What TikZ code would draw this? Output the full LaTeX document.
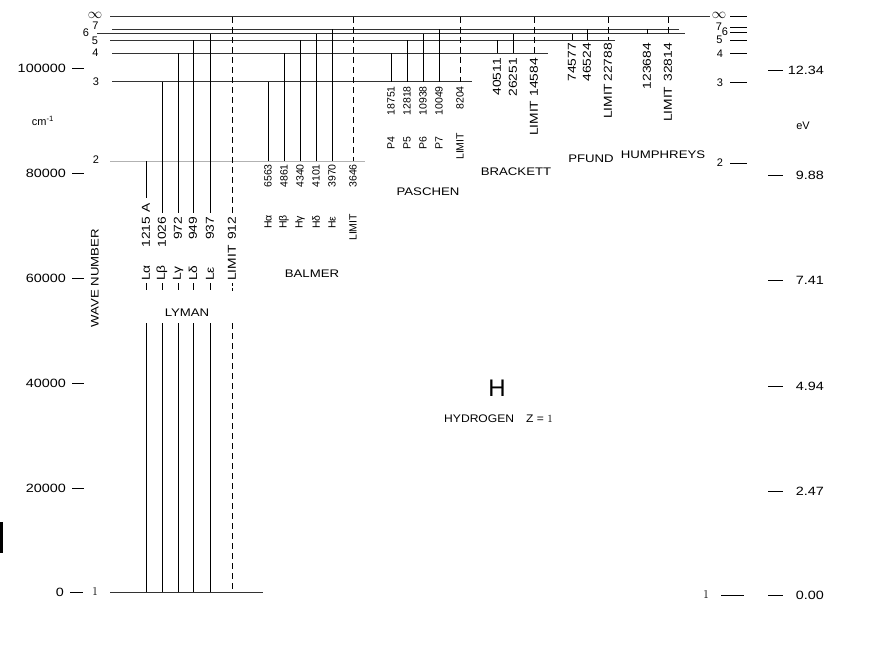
\documentclass[tikz,border=0pt]{standalone}
\usepackage{fontspec}
\setmainfont{Liberation Sans}
\newfontfamily\wfont[FakeStretch=1.2]{Liberation Sans}
\newfontfamily\mfont[FakeStretch=1.1]{Liberation Sans}
\begin{document}
\begin{tikzpicture}[x=1pt,y=-1pt,
  lev/.style={line width=0.8pt,black!80},
  levtwo/.style={line width=0.8pt,black!30},
  tr/.style={line width=0.9pt},
  lim/.style={line width=0.9pt,dash pattern=on 6pt off 4pt},
  tick/.style={line width=0.8pt},
  axnum/.style={font=\wfont\fontsize{12}{14}\selectfont,inner sep=0pt},
  lvnum/.style={font=\fontsize{11}{13}\selectfont,inner sep=0pt},
  biglab/.style={font=\wfont\fontsize{11.5}{13}\selectfont,inner sep=0pt,rotate=90},
  smalllab/.style={font=\fontsize{10.5}{12}\selectfont,inner sep=0pt,rotate=90},
  sername/.style={font=\wfont\fontsize{11}{13}\selectfont,inner sep=0pt},
]
\useasboundingbox (0,0) rectangle (871,645);
\fill[white] (0,0) rectangle (871,645);
\fill[black] (0,522) rectangle (3,553);

% ---------- energy levels ----------
\draw[lev] (110,592) -- (263,592);
\draw[levtwo] (110,161) -- (365,161);
\draw[lev] (112,81.7) -- (472,81.7);
\draw[lev] (112,53.3) -- (548,53.3);
\draw[lev] (110,40) -- (615,40);
\draw[lev] (97,33.7) -- (685,33.7);
\draw[lev] (112,29) -- (679,29);
\draw[lev] (110,16.8) -- (710,16.8);

% ---------- left level labels ----------
\node[lvnum] (lI) at (95,15) {\fontsize{14}{14}\selectfont$\infty$};
\node[lvnum] (l7) at (95.5,25.5) {7};
\node[lvnum] (l6) at (86,33) {6};
\node[lvnum] (l5) at (95,41) {5};
\node[lvnum] (l4) at (95.5,53) {4};
\node[lvnum] (l3) at (96,82) {3};
\node[lvnum] (l2) at (96,160) {2};
\node[lvnum] (l1) at (95,592) {\fontsize{12}{12}\selectfont$1$};

% ---------- right level labels ----------
\node[lvnum] (rI) at (719,15) {\fontsize{14}{14}\selectfont$\infty$};
\node[lvnum] (r7) at (719,26.5) {7};
\node[lvnum] (r6) at (725,32) {6};
\node[lvnum] (r5) at (719.5,40) {5};
\node[lvnum] (r4) at (720,54) {4};
\node[lvnum] (r3) at (720,83) {3};
\node[lvnum] (r2) at (720,163) {2};
\node[lvnum] (r1) at (706,595) {\fontsize{12}{12}\selectfont$1$};
\foreach \y in {16.3,27.7,32.3,40.3,53.3,82.3,163.3}{
  \draw[tick] (730,\y) -- (747,\y);
}
\draw[tick] (721,595) -- (744,595);

% ---------- left wave-number axis ----------
\foreach \y/\t/\k in {68/100000/a,173/80000/b,278/60000/c,383/40000/d,488/20000/e}{
  \node[axnum,anchor=east] (ax\k) at (66,\y) {\t};
  \draw[tick] (72,\y) -- (84,\y);
}
\node[axnum,anchor=east] (axf) at (64,592) {0};
\draw[tick] (70,592) -- (83,592);
\node[lvnum] (cm) at (43,121) {cm\textsuperscript{-1}};
\node[sername,rotate=90] (wn) at (95,278) {WAVE NUMBER};

% ---------- right eV axis ----------
\foreach \y/\t/\k in {70.5/12.34/a,175.5/9.88/b,280/7.41/c,386/4.94/d,491/2.47/e,595/0.00/f}{
  \draw[tick] (768,\y) -- (783,\y);
  \node[axnum,anchor=east] (ev\k) at (824,\y) {\t};
}
\node[lvnum] (eV) at (803,126) {eV};

% ---------- Lyman series ----------
\draw[tr] (146,161) -- (146,198);
\node[biglab,anchor=east] (Lyan) at (146,216.5) {1215\rlap{\hspace{4pt}A}};
\node[biglab,anchor=west] (Lyas) at (146,281) {Lα};
\draw[tr] (146,283) -- (146,290);
\draw[tr] (146,323) -- (146,592);
\foreach \x/\yt/\s/\n/\k in {162/81.7/Lβ/1026/b,178/53.3/Lγ/972/c,193/40/Lδ/949/d,210/33.7/Lε/937/e}{
  \draw[tr] (\x,\yt) -- (\x,213);
  \node[biglab,anchor=east] (Ly\k n) at (\x,216.5) {\n};
  \node[biglab,anchor=west] (Ly\k s) at (\x,281) {\s};
  \draw[tr] (\x,283) -- (\x,290);
  \draw[tr] (\x,323) -- (\x,592);
}
\draw[lim] (232,16.8) -- (232,213);
\node[biglab,anchor=east] (Lyln) at (232,216.5) {912};
\node[biglab,anchor=west] (Lyls) at (232,281) {LIMIT};
\draw[tr,dash pattern=on 3pt off 2pt] (232,283) -- (232,292);
\draw[lim] (232,323) -- (232,592);
\node[sername] (lyman) at (187,313) {LYMAN};

% ---------- Balmer series ----------
\foreach \x/\yt/\s/\n/\k in {268/81.7/Hα/6563/a,284/53.3/Hβ/4861/b,300/40/Hγ/4340/c,316/33.7/Hδ/4101/d,332/29/Hε/3970/e}{
  \draw[tr] (\x,\yt) -- (\x,161);
  \node[smalllab,anchor=east] (Ba\k n) at (\x,164) {\n};
  \node[smalllab,anchor=west] (Ba\k s) at (\x,229) {\s};
}
\draw[lim] (353,16.8) -- (353,161);
\node[smalllab,anchor=east] (Baln) at (353,164) {3646};
\node[smalllab,anchor=west] (Bals) at (353,241) {LIMIT};
\node[sername] (balmer) at (312,274) {BALMER};

% ---------- Paschen series ----------
\foreach \x/\yt/\s/\n/\k in {391/53.3/P4/18751/a,407/40/P5/12818/b,423/33.7/P6/10938/c,439/29/P7/10049/d}{
  \draw[tr] (\x,\yt) -- (\x,81.7);
  \node[smalllab,anchor=east] (Pa\k n) at (\x,86) {\n};
  \node[smalllab,anchor=west] (Pa\k s) at (\x,150) {\s};
}
\draw[lim] (460,16.8) -- (460,81.7);
\node[smalllab,anchor=east] (Paln) at (460,86) {8204};
\node[smalllab,anchor=west] (Pals) at (460,160) {LIMIT};
\node[sername] (paschen) at (428,192) {PASCHEN};

% ---------- Brackett series ----------
\draw[tr] (497,40) -- (497,53.3);
\node[biglab,anchor=east] (Bra) at (497,58) {40511};
\draw[tr] (513,33.7) -- (513,53.3);
\node[biglab,anchor=east] (Brb) at (513,58) {26251};
\draw[lim] (534,16.8) -- (534,53.3);
\node[biglab,anchor=east] (Brl) at (534,58) {LIMIT\hspace{4pt}14584};
\node[sername] (brackett) at (516,172) {BRACKETT};

% ---------- Pfund series ----------
\draw[tr] (572,33.7) -- (572,40);
\node[biglab,anchor=east] (Pfa) at (572,43) {74577};
\draw[tr] (587,29) -- (587,40);
\node[biglab,anchor=east] (Pfb) at (587,43) {46524};
\draw[lim] (608,16.8) -- (608,40);
\node[biglab,anchor=east] (Pfl) at (608,43) {LIMIT\hspace{2pt}22788};
\node[sername] (pfund) at (591,159) {PFUND};

% ---------- Humphreys series ----------
\draw[tr] (647,29) -- (647,33.7);
\node[biglab,anchor=east] (Hua) at (647,43) {123684};
\draw[lim] (668,16.8) -- (668,33.7);
\node[biglab,anchor=east] (Hul) at (668,43) {LIMIT\hspace{5pt}32814};
\node[sername] (humphreys) at (663,155) {HUMPHREYS};

% ---------- title ----------
\node[font=\fontsize{24}{26}\selectfont,inner sep=0pt] (H) at (497,388) {H};
\node[font=\mfont\fontsize{11}{13}\selectfont,inner sep=0pt] (hyd) at (498.5,419) {HYDROGEN\hspace{12pt}Z = $1$};
\end{tikzpicture}
\end{document}
